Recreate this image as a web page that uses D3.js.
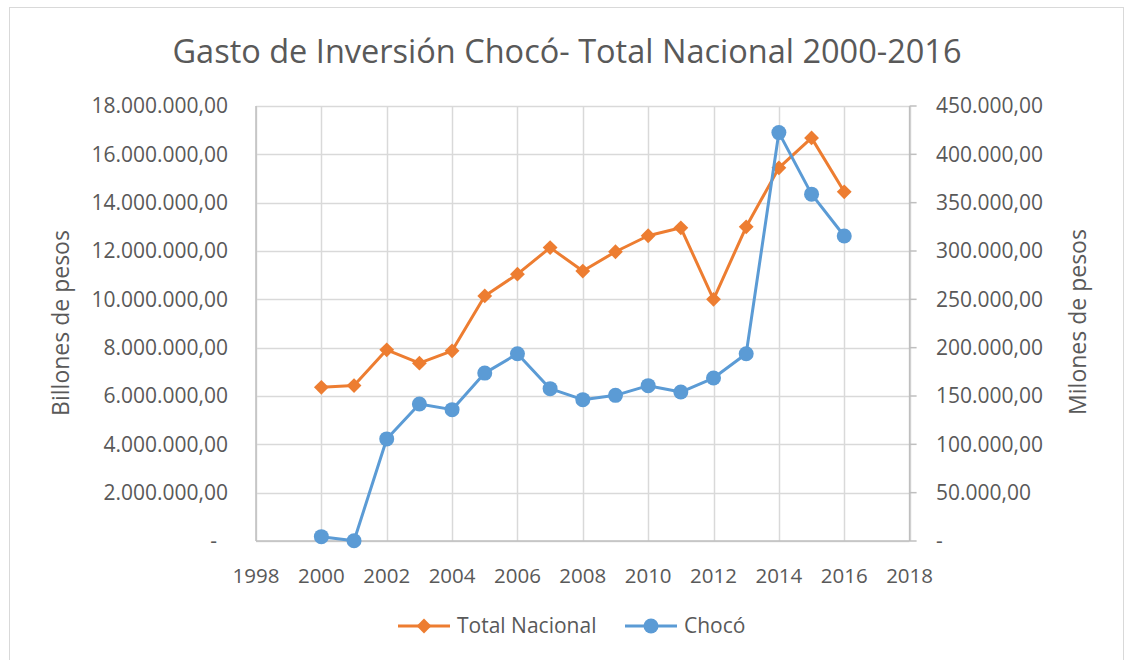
<!DOCTYPE html>
<html>
<head>
<meta charset="utf-8">
<script src="https://cdn.jsdelivr.net/npm/d3@7"></script>
<style>
  body { margin: 0; background: #fff; }
  text { font-family: "Open Sans", sans-serif; fill: #595959; }
</style>
</head>
<body>
<div id="chart"></div>
<script>
const years = [2000, 2001, 2002, 2003, 2004, 2005, 2006, 2007, 2008, 2009, 2010, 2011, 2012, 2013, 2014, 2015, 2016];
// Total Nacional, billones de pesos (left axis)
const totalNacional = [6360000, 6430000, 7910000, 7360000, 7870000, 10140000, 11040000, 12140000, 11170000,
  11970000, 12630000, 12960000, 10000000, 13000000, 15440000, 16680000, 14450000];
// Chocó, millones de pesos (right axis)
const choco = [4500, 200, 105600, 141700, 135900, 173700, 193700, 157600, 146200,
  150700, 160700, 154100, 168600, 193700, 422500, 358800, 315500];
const xTicks = [1998, 2000, 2002, 2004, 2006, 2008, 2010, 2012, 2014, 2016, 2018];
const leftTicks = d3.range(0, 18000001, 2000000);
const rightTicks = d3.range(0, 450001, 50000);

const width = 1126, height = 660;
const plot = { left: 256, right: 909.6, top: 106, bottom: 541 };
const orange = '#ED7D31', blue = '#5B9BD5';

const locale = d3.formatLocale({ decimal: ',', thousands: '.', grouping: [3], currency: ['', ''] });
const fmt = locale.format(',.2f');

const svg = d3.select('#chart').append('svg')
  .attr('width', width)
  .attr('height', height);

// chart frame
svg.append('rect')
  .attr('x', 9.5).attr('y', 7.5)
  .attr('width', 1114).attr('height', 700)
  .attr('fill', '#fff').attr('stroke', '#D9D9D9');

const x = d3.scaleLinear().domain([1998, 2018]).range([plot.left, plot.right]);
const yLeft = d3.scaleLinear().domain([0, 18000000]).range([plot.bottom, plot.top]);
const yRight = d3.scaleLinear().domain([0, 450000]).range([plot.bottom, plot.top]);

// gridlines
const grid = svg.append('g');
grid.selectAll('line.h').data(leftTicks).join('line')
  .attr('class', 'h')
  .attr('x1', plot.left).attr('x2', plot.right)
  .attr('y1', d => Math.round(yLeft(d)) + 0.5).attr('y2', d => Math.round(yLeft(d)) + 0.5)
  .attr('stroke', '#D9D9D9').attr('stroke-width', 1.5);
grid.selectAll('line.v').data(xTicks).join('line')
  .attr('class', 'v')
  .attr('x1', d => Math.round(x(d)) + 0.5).attr('x2', d => Math.round(x(d)) + 0.5)
  .attr('y1', plot.top).attr('y2', plot.bottom)
  .attr('stroke', '#D9D9D9').attr('stroke-width', 1.5);

// axis lines
svg.append('line')
  .attr('x1', plot.left).attr('x2', plot.left).attr('y1', plot.top).attr('y2', plot.bottom)
  .attr('stroke', '#BFBFBF').attr('stroke-width', 1.5);
svg.append('line')
  .attr('x1', plot.right).attr('x2', plot.right).attr('y1', plot.top).attr('y2', plot.bottom)
  .attr('stroke', '#BFBFBF').attr('stroke-width', 1.5);
svg.append('line')
  .attr('x1', plot.left).attr('x2', plot.right).attr('y1', plot.bottom).attr('y2', plot.bottom)
  .attr('stroke', '#BFBFBF').attr('stroke-width', 1.5);

// right axis ticks (outside)
svg.append('g').selectAll('line').data(rightTicks).join('line')
  .attr('x1', plot.right).attr('x2', plot.right + 7)
  .attr('y1', d => yRight(d)).attr('y2', d => yRight(d))
  .attr('stroke', '#BFBFBF').attr('stroke-width', 1.5);

// tick labels
svg.append('g').selectAll('text').data(leftTicks).join('text')
  .attr('x', d => d === 0 ? 217 : 228)
  .attr('y', d => yLeft(d))
  .attr('dy', '0.35em')
  .attr('text-anchor', 'end')
  .style('font-size', '21px')
  .text(d => d === 0 ? '-' : fmt(d));

svg.append('g').selectAll('text').data(rightTicks).join('text')
  .attr('x', 936)
  .attr('y', d => yRight(d))
  .attr('dy', '0.35em')
  .attr('text-anchor', 'start')
  .style('font-size', '21px')
  .text(d => d === 0 ? '-' : fmt(d));

svg.append('g').selectAll('text').data(xTicks).join('text')
  .attr('x', d => x(d))
  .attr('y', 583)
  .attr('text-anchor', 'middle')
  .style('font-size', '20.5px')
  .text(d => d);

// title
svg.append('text')
  .attr('x', 567).attr('y', 63)
  .attr('text-anchor', 'middle')
  .style('font-size', '32.5px')
  .text('Gasto de Inversión Chocó- Total Nacional 2000-2016');

// axis titles
svg.append('text')
  .attr('transform', 'translate(69,323) rotate(-90)')
  .attr('text-anchor', 'middle')
  .style('font-size', '23px')
  .text('Billones de pesos');
svg.append('text')
  .attr('transform', 'translate(1086,322) rotate(-90)')
  .attr('text-anchor', 'middle')
  .style('font-size', '23px')
  .text('Milones de pesos');

// series
const lineLeft = d3.line().x((d, i) => x(years[i])).y(d => yLeft(d));
const lineRight = d3.line().x((d, i) => x(years[i])).y(d => yRight(d));

svg.append('path').datum(totalNacional)
  .attr('d', lineLeft).attr('fill', 'none')
  .attr('stroke', orange).attr('stroke-width', 3).attr('stroke-linejoin', 'round');
svg.append('g').selectAll('path').data(totalNacional).join('path')
  .attr('d', d3.symbol(d3.symbolDiamond2, 140))
  .attr('transform', (d, i) => `translate(${x(years[i])},${yLeft(d)})`)
  .attr('fill', orange);

svg.append('path').datum(choco)
  .attr('d', lineRight).attr('fill', 'none')
  .attr('stroke', blue).attr('stroke-width', 3).attr('stroke-linejoin', 'round');
svg.append('g').selectAll('circle').data(choco).join('circle')
  .attr('cx', (d, i) => x(years[i]))
  .attr('cy', d => yRight(d))
  .attr('r', 7.5)
  .attr('fill', blue);

// legend
const legend = [
  { name: 'Total Nacional', color: orange, x: 398, marker: 'diamond' },
  { name: 'Chocó', color: blue, x: 625, marker: 'circle' }
];
const lg = svg.append('g').selectAll('g').data(legend).join('g')
  .attr('transform', d => `translate(${d.x},626)`);
lg.append('line')
  .attr('x1', 0).attr('x2', 52).attr('y1', 0).attr('y2', 0)
  .attr('stroke', d => d.color).attr('stroke-width', 3);
lg.filter(d => d.marker === 'diamond').append('path')
  .attr('d', d3.symbol(d3.symbolDiamond2, 140))
  .attr('transform', 'translate(26,0)')
  .attr('fill', d => d.color);
lg.filter(d => d.marker === 'circle').append('circle')
  .attr('cx', 26).attr('cy', 0).attr('r', 7.5)
  .attr('fill', d => d.color);
lg.append('text')
  .attr('x', 59).attr('y', 0).attr('dy', '0.35em')
  .style('font-size', '21px')
  .text(d => d.name);
</script>
</body>
</html>
